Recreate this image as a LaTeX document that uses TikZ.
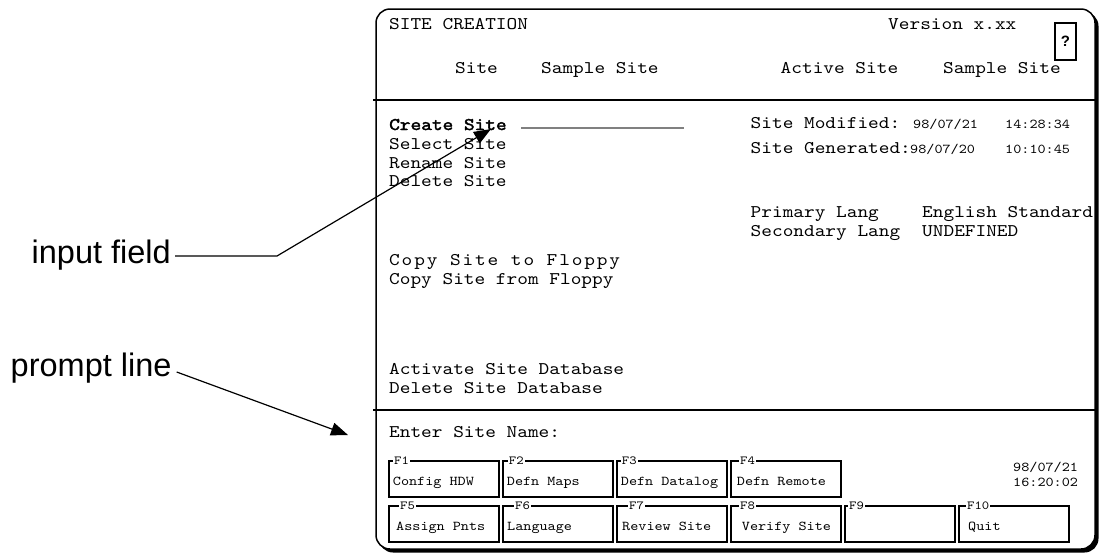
\documentclass[tikz,border=0pt]{standalone}
\usepackage{fontspec}
\usetikzlibrary{arrows.meta}
% typewriter face stretched to Courier-like advance widths (0.6 em)
\newfontfamily\scrmono[FakeStretch=1.143]{lmmono10-regular.otf}
\newfontfamily\scrmonobold[FakeStretch=1.143, FakeBold=2.2]{lmmono10-regular.otf}
\newfontfamily\lblsans{Liberation Sans}
\newcommand{\scrbig}{\scrmono\fontsize{17.8}{20}\selectfont}
\newcommand{\scrbigbold}{\scrmonobold\fontsize{17.8}{20}\selectfont}
\newcommand{\scrsmall}{\scrmono\fontsize{13.5}{15}\selectfont}
\newcommand{\scrtiny}{\scrmono\fontsize{12.3}{14}\selectfont}
\tikzset{
  scrtext/.style={anchor=base west, inner sep=0pt, font=\scrbig},
  smalltext/.style={anchor=base west, inner sep=0pt, font=\scrsmall},
  keylabel/.style={anchor=base west, inner xsep=1pt, inner ysep=0.5pt, fill=white, font=\scrtiny},
  fkey/.style={draw, line width=1.8pt, minimum width=110pt, minimum height=36pt, inner sep=0pt},
  callout/.style={anchor=base east, inner sep=0pt, font=\lblsans\fontsize{32.5}{35}\selectfont},
  pointer/.style={line width=1.2pt, -{Triangle[length=17pt,width=13pt]}},
  divider/.style={line width=2pt}
}
\begin{document}
\begin{tikzpicture}[x=1pt,y=-1pt]
\useasboundingbox (0,0) rectangle (1101,558);

% screen frame with drop shadow
\fill[black, rounded corners=14pt] (379,12) rectangle (1098.5,552.5);
\draw[fill=white, line width=1.5pt, rounded corners=14pt] (376,9) rectangle (1095,549);

% dividers
\draw[divider] (373,100) -- (1095,100);
\draw[divider] (373,410) -- (1095,410);

% header
\node[scrtext] (title) at (389,29) {SITE CREATION};
\node[scrtext] (version) at (888,29) {Version x.xx};
\node[draw, line width=1.5pt, minimum width=21pt, minimum height=37pt, inner sep=0pt,
      font=\lblsans\bfseries\fontsize{15}{17}\selectfont] (help) at (1065.5,41.5) {?};
\node[scrtext] (sitelbl) at (455,73) {Site};
\node[scrtext] (siteval) at (541,73) {Sample Site};
\node[scrtext] (activelbl) at (780.5,73) {Active Site};
\node[scrtext] (activeval) at (943,73) {Sample Site};

% menu
\node[scrtext, font=\scrbigbold] (create) at (389,130) {Create Site};
\draw[gray, line width=2pt] (521,127.5) -- (684,127.5);
\node[scrtext] (select) at (389,149) {Select Site};
\node[scrtext] (rename) at (389,168) {Rename Site};
\node[scrtext] (delete) at (389,186.5) {Delete Site};
\node[scrtext, font=\scrbig\addfontfeature{LetterSpace=10.5}] (tofloppy) at (389,265) {Copy Site to Floppy};
\node[scrtext] (fromfloppy) at (389,284) {Copy Site from Floppy};
\node[scrtext] (activate) at (389,374) {Activate Site Database};
\node[scrtext] (deletedb) at (389,393) {Delete Site Database};

% site status
\node[scrtext] (modlbl) at (750.5,128) {Site Modified:};
\node[smalltext] (moddate) at (913,128) {98/07/21};
\node[smalltext] (modtime) at (1005,128) {14:28:34};
\node[scrtext] (genlbl) at (750.5,153) {Site Generated:};
\node[smalltext] (gendate) at (910,153) {98/07/20};
\node[smalltext] (gentime) at (1005,153) {10:10:45};
\node[scrtext] (primlbl) at (750.5,217.5) {Primary Lang};
\node[scrtext] (primval) at (922,217.5) {English Standard};
\node[scrtext] (seclbl) at (750.5,236.5) {Secondary Lang};
\node[scrtext] (secval) at (922,236.5) {UNDEFINED};

% prompt line
\node[scrtext] (prompt) at (389,437) {Enter Site Name:};

% function keys, first row
\node[fkey] (f1) at (444,479) {};
\node[fkey] (f2) at (558,479) {};
\node[fkey] (f3) at (672,479) {};
\node[fkey] (f4) at (786,479) {};
\node[keylabel] at (393,464.5) {F1};
\node[keylabel] at (507.7,464.5) {F2};
\node[keylabel] at (620.7,464.5) {F3};
\node[keylabel] at (739,464.5) {F4};
\node[smalltext] at (392.7,485.8) {Config HDW};
\node[smalltext] at (506.7,485.8) {Defn Maps};
\node[smalltext] at (620.7,485.8) {Defn Datalog};
\node[smalltext] at (736.7,485.8) {Defn Remote};
\node[smalltext] (date) at (1013,471.8) {98/07/21};
\node[smalltext] (time) at (1013,486.8) {16:20:02};

% function keys, second row
\node[fkey] (f5) at (444,524) {};
\node[fkey] (f6) at (558,524) {};
\node[fkey] (f7) at (672,524) {};
\node[fkey] (f8) at (786,524) {};
\node[fkey] (f9) at (900,524) {};
\node[fkey] (f10) at (1014,524) {};
\node[keylabel] at (399,509.5) {F5};
\node[keylabel] at (514,509.5) {F6};
\node[keylabel] at (628,509.5) {F7};
\node[keylabel] at (739,509.5) {F8};
\node[keylabel] at (848,509.5) {F9};
\node[keylabel] at (966,509.5) {F10};
\node[smalltext] at (396,530.8) {Assign Pnts};
\node[smalltext] at (507,530.8) {Language};
\node[smalltext] at (622,530.8) {Review Site};
\node[smalltext] at (741.7,530.8) {Verify Site};
\node[smalltext] at (968,530.8) {Quit};

% callouts
\node[callout] (inlbl) at (171,263.5) {input field};
\node[callout] (prlbl) at (171.7,376.5) {prompt line};
\coordinate (inbend) at (277,256);
\coordinate (intip) at (491,129);
\coordinate (prtip) at (348,435);
\draw[pointer] ([shift={(4,-7.5)}]inlbl.base east) -- (inbend) -- (intip);
\draw[pointer] ([shift={(5,-4.5)}]prlbl.base east) -- (prtip);
\end{tikzpicture}
\end{document}
